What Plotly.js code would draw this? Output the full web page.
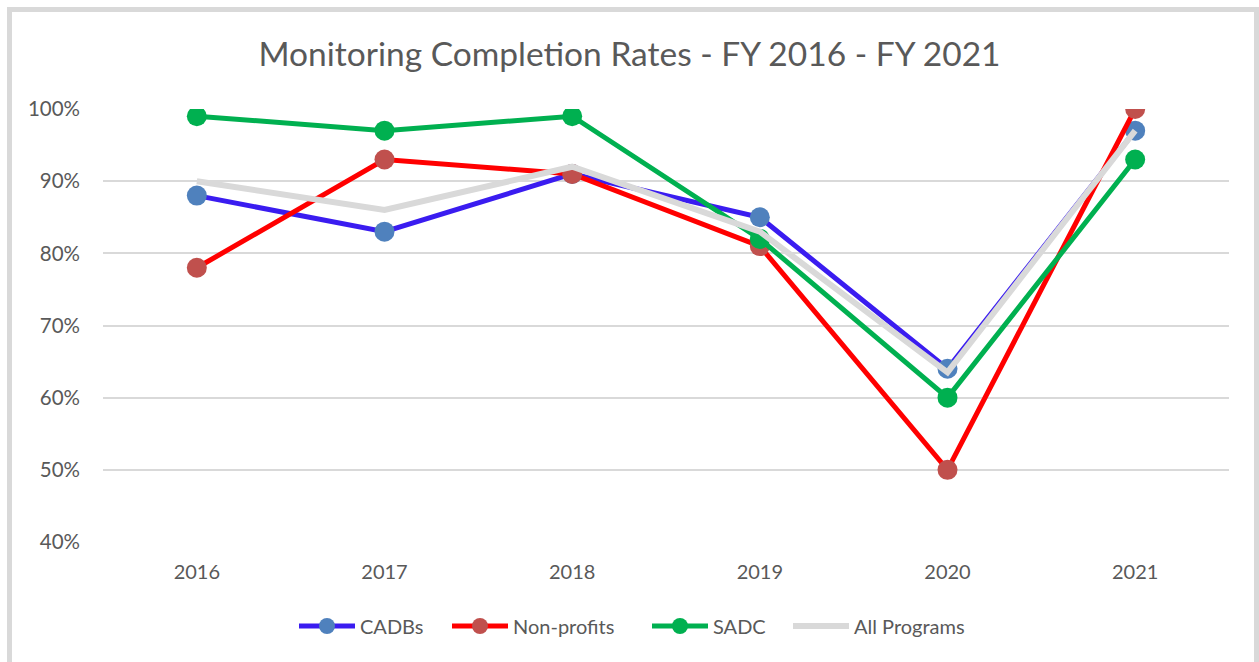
<!DOCTYPE html>
<html>
<head>
<meta charset="utf-8">
<script src="https://cdn.plot.ly/plotly-3.0.1.min.js"></script>
<style>
html,body{margin:0;padding:0;background:#fff;overflow:hidden;width:1259px;height:662px;}
#chart{position:absolute;left:0;top:0;width:1259px;height:662px;}
#frame{position:absolute;left:7px;top:7px;width:1242px;height:720px;border:5px solid #D9D9D9;pointer-events:none;}
</style>
</head>
<body>
<div id="chart"></div>
<div id="frame"></div>
<script>
const years = ['2016','2017','2018','2019','2020','2021'];
const cadbs = [0.88, 0.83, 0.91, 0.85, 0.64, 0.97];
const nonProfits = [0.78, 0.93, 0.91, 0.81, 0.50, 1.00];
const sadc = [0.99, 0.97, 0.99, 0.82, 0.60, 0.93];
const allPrograms = [0.90, 0.86, 0.92, 0.83, 0.635, 0.97];

const FONT = 'Lato, "Open Sans", sans-serif';
const TXT = '#595959';

const traces = [
  {x: years, y: cadbs, name: 'CADBs', mode: 'lines+markers', legend: 'legend',
   line: {color: '#3A1CF0', width: 5}, marker: {color: '#4F81BD', size: 20}},
  {x: years, y: nonProfits, name: 'Non-profits', mode: 'lines+markers', legend: 'legend2',
   line: {color: '#FF0000', width: 5}, marker: {color: '#C0504D', size: 20}},
  {x: years, y: sadc, name: 'SADC', mode: 'lines+markers', legend: 'legend3',
   line: {color: '#00B050', width: 5}, marker: {color: '#00B050', size: 20}},
  {x: years, y: allPrograms, name: 'All Programs', mode: 'lines', legend: 'legend4',
   line: {color: '#D9D9D9', width: 6}}
];

function leg(px) {
  return {orientation: 'h', xref: 'container', yref: 'container',
          x: px / 1259, xanchor: 'left', y: (662 - 626) / 662, yanchor: 'middle',
          font: {family: FONT, size: 20, color: TXT}, itemwidth: 56,
          bgcolor: 'rgba(0,0,0,0)', borderwidth: 0};
}

const layout = {
  width: 1259, height: 662,
  paper_bgcolor: 'rgba(0,0,0,0)', plot_bgcolor: 'rgba(0,0,0,0)',
  margin: {l: 103, r: 30, t: 109, b: 120},
  font: {family: FONT, color: TXT, size: 20},
  title: {text: 'Monitoring Completion Rates - FY 2016 - FY 2021',
          font: {family: FONT, size: 33.5, color: TXT},
          x: 0.5, xanchor: 'center', y: 0.9184, yanchor: 'middle'},
  xaxis: {type: 'category', range: [-0.5, 5.5], showgrid: false, zeroline: false,
          showline: false, ticks: '', ticklabelstandoff: 16,
          tickfont: {family: FONT, size: 20, color: TXT}},
  yaxis: {range: [0.4, 1.0], dtick: 0.1, tickformat: '.0%', showgrid: true,
          gridcolor: '#D9D9D9', gridwidth: 2, zeroline: false, showline: false,
          ticks: '', ticklabelstandoff: 22,
          tickfont: {family: FONT, size: 20.5, color: TXT}},
  showlegend: true,
  legend: leg(294),
  legend2: leg(447),
  legend3: leg(647),
  legend4: leg(788),
  hovermode: false
};

Plotly.newPlot('chart', traces, layout, {staticPlot: true, displayModeBar: false});
</script>
</body>
</html>
